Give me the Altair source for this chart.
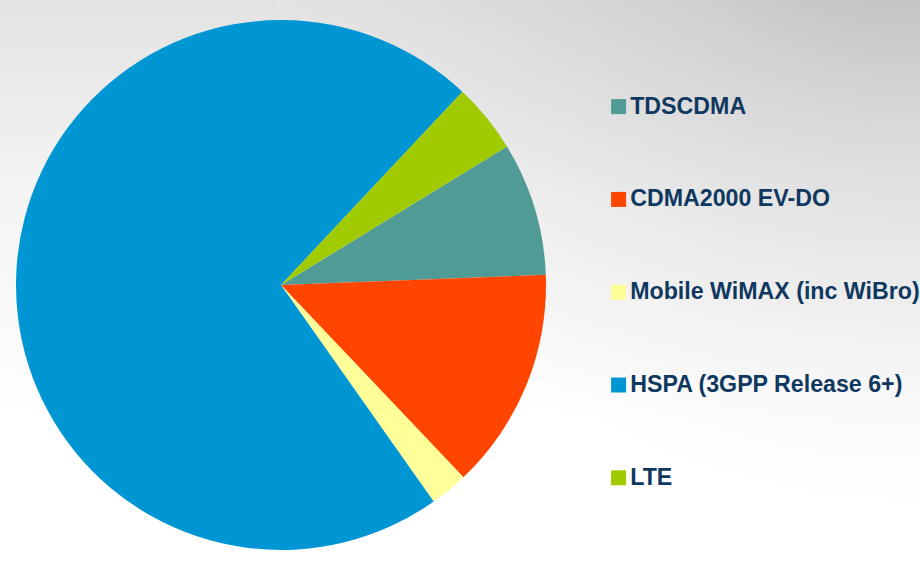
import altair as alt
import pandas as pd

categories = ["TDSCDMA", "CDMA2000 EV-DO", "Mobile WiMAX (inc WiBro)", "HSPA (3GPP Release 6+)", "LTE"]
shares = [8.14, 13.53, 2.31, 71.78, 4.25]
colors = ["#509B95", "#FF4500", "#FFFF99", "#0096D4", "#9FCB00"]
order = list(range(len(categories)))

df = pd.DataFrame({"tech": categories, "share": shares, "ord": order})

start = 1.021
two_pi = 6.283185307

bg_lin = alt.Chart(alt.Data(values=[{}])).mark_rect(
    color=alt.LinearGradient(
        gradient="linear",
        stops=[alt.GradientStop(color="#E3E3E3", offset=0),
               alt.GradientStop(color="#F4F4F4", offset=0.35),
               alt.GradientStop(color="#FFFFFF", offset=0.75)],
        x1=0, x2=0, y1=0, y2=1),
    strokeWidth=0,
).encode(x=alt.value(0), x2=alt.value(920), y=alt.value(0), y2=alt.value(562))

bg_rad = alt.Chart(alt.Data(values=[{}])).mark_rect(
    color=alt.RadialGradient(
        gradient="radial",
        stops=[alt.GradientStop(color="rgba(150,150,150,0.75)", offset=0),
               alt.GradientStop(color="rgba(170,170,170,0.35)", offset=0.4),
               alt.GradientStop(color="rgba(200,200,200,0)", offset=1)],
        x1=1, y1=0, r1=0, x2=1, y2=0, r2=0.75),
    strokeWidth=0,
).encode(x=alt.value(0), x2=alt.value(920), y=alt.value(0), y2=alt.value(562))

pie = alt.Chart(df).mark_arc(outerRadius=265, strokeWidth=0).encode(
    theta=alt.Theta("share:Q", stack=True, scale=alt.Scale(range=[start, start + two_pi])),
    order=alt.Order("ord:Q"),
    color=alt.Color(
        "tech:N",
        scale=alt.Scale(domain=categories, range=colors),
        legend=alt.Legend(
            title=None,
            orient="none",
            legendX=607,
            legendY=95,
            symbolType="square",
            symbolSize=225,
            symbolStrokeWidth=0,
            labelFont="Liberation Sans",
            labelFontSize=23.2,
            labelFontWeight="bold",
            labelColor="#0F3860",
            labelOffset=0,
            labelLimit=400,
            rowPadding=68.8,
            padding=0,
        ),
    ),
    x=alt.value(281),
    y=alt.value(285),
)

chart = alt.layer(bg_lin, bg_rad, pie).properties(
    width=920, height=562, padding=0, autosize="none"
).configure_view(stroke=None).configure(background="#FFFFFF")

chart.save("out.html", embed_options={"renderer": "svg", "actions": False})
